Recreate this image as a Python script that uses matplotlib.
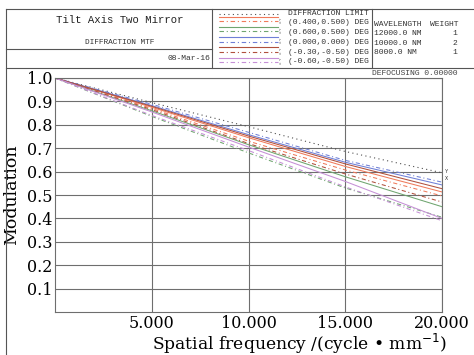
"""Polychromatic diffraction MTF plot, Zemax-style header block."""

import matplotlib
matplotlib.use("Agg")
import matplotlib.pyplot as plt
from matplotlib.lines import Line2D

W, H = 474, 355

# spatial frequency (cycles/mm) at which the curves were read
freq = [0.0, 5.0, 10.0, 15.0, 20.0]

diffraction = [1.0, 0.895, 0.792, 0.686, 0.595]

fields = ["(0.400,0.500) DEG", "(0.600,0.500) DEG", "(0.000,0.000) DEG",
          "(-0.30,-0.50) DEG", "(-0.60,-0.50) DEG"]
tangential = [
    [1.0, 0.875, 0.745, 0.622, 0.513],
    [1.0, 0.860, 0.715, 0.578, 0.450],
    [1.0, 0.882, 0.758, 0.640, 0.543],
    [1.0, 0.879, 0.752, 0.633, 0.527],
    [1.0, 0.855, 0.705, 0.558, 0.400],
]
sagittal = [
    [1.0, 0.870, 0.730, 0.607, 0.496],
    [1.0, 0.836, 0.680, 0.530, 0.405],
    [1.0, 0.888, 0.768, 0.648, 0.555],
    [1.0, 0.865, 0.720, 0.590, 0.470],
    [1.0, 0.840, 0.690, 0.535, 0.390],
]
field_colors = ["#f07a5a", "#6fa56f", "#6f7fd6", "#b0503c", "#c58fd6"]

wavelengths = ["12000.0 NM", "10000.0 NM", "8000.0 NM"]
weights = ["1", "2", "1"]

yticks = [0.1, 0.2, 0.3, 0.4, 0.5, 0.6, 0.7, 0.8, 0.9, 1.0]
xticks = [5, 10, 15, 20]

FRAME = "#555555"
GRID = "#6e6e6e"
MONO = "Liberation Mono"
SERIF = "DejaVu Serif"
DASH = (0, (4, 2.5, 1, 2.5))
DOT = (0, (1, 3))


def fx(x):
    return x / W


def fy(y):
    return 1 - y / H


def hline(fig, x0, x1, y, **kw):
    fig.add_artist(Line2D([fx(x0), fx(x1)], [fy(y), fy(y)], **kw))


def vline(fig, x, y0, y1, **kw):
    fig.add_artist(Line2D([fx(x), fx(x)], [fy(y0), fy(y1)], **kw))


fig = plt.figure(figsize=(W / 100, H / 100), dpi=100)
ax = fig.add_axes([fx(55), fy(312), fx(442) - fx(55), fy(78) - fy(312)])

ax.plot(freq, diffraction, color="#505050", lw=0.8, linestyle=DOT)
for t, s, c in zip(tangential, sagittal, field_colors):
    ax.plot(freq, t, color=c, lw=0.75)
    ax.plot(freq, s, color=c, lw=0.75, linestyle=DASH)

ax.annotate("Y", xy=(freq[-1], diffraction[-1]), xytext=(2, 1),
            textcoords="offset points", fontsize=3.8, family=MONO,
            color="#333333", va="center")
ax.annotate("X", xy=(freq[-1], diffraction[-1]), xytext=(2, -4),
            textcoords="offset points", fontsize=3.8, family=MONO,
            color="#333333", va="center")

ax.set_xlim(0, 20)
ax.set_ylim(0, 1.0)
ax.set_xticks(xticks)
ax.set_xticklabels([f"{v:.3f}" for v in xticks])
ax.set_yticks(yticks)
ax.set_yticklabels([f"{v:.1f}" for v in yticks])
ax.tick_params(axis="x", length=0, labelsize=11.5, pad=2)
ax.tick_params(axis="y", length=0, labelsize=11.5, pad=2)
for lab in ax.get_xticklabels() + ax.get_yticklabels():
    lab.set_family(SERIF)
ax.grid(True, color=GRID, lw=0.8)
for sp in ax.spines.values():
    sp.set_color(GRID)
    sp.set_linewidth(0.8)
ax.set_axisbelow(True)
ax.set_xlabel("Spatial frequency /(cycle • mm$^{-1}$)", family=SERIF,
              fontsize=12.3)
ax.xaxis.set_label_coords(0.633, -0.086)
ax.set_ylabel("Modulation", family=SERIF, fontsize=12.5)
ax.yaxis.set_label_coords(-0.09, 0.5)

# header block
kw = dict(color=FRAME, lw=0.8)
hline(fig, 6, W, 9, **kw)
hline(fig, 6, W, 68, **kw)
hline(fig, 6, 212, 49, **kw)
vline(fig, 6, 9, H, **kw)
vline(fig, 212, 9, 68, **kw)
vline(fig, 372, 9, 68, **kw)

fig.text(fx(120), fy(20), "Tilt Axis Two Mirror", family=MONO, fontsize=7.7,
         ha="center", va="center", color="#222222")
fig.text(fx(120), fy(43), "DIFFRACTION MTF", family=MONO, fontsize=5.6,
         ha="center", va="center", color="#333333")
fig.text(fx(210), fy(58), "08-Mar-16", family=MONO, fontsize=5.8,
         ha="right", va="center", color="#333333")

# legend rows
fig.add_artist(Line2D([fx(219), fx(278)], [fy(13.7), fy(13.7)],
                      color="#505050", lw=0.8, linestyle=DOT))
fig.text(fx(288), fy(13.3), "DIFFRACTION LIMIT", family=MONO, fontsize=5.8,
         va="center", color="#333333")
for i, (name, c) in enumerate(zip(fields, field_colors)):
    ys = 16.8 + 10.2 * i
    yd = 21.2 + 10.2 * i
    fig.add_artist(Line2D([fx(219), fx(278)], [fy(ys), fy(ys)], color=c, lw=0.8))
    fig.add_artist(Line2D([fx(219), fx(278)], [fy(yd), fy(yd)], color=c, lw=0.8,
                          linestyle=DASH))
    fig.text(fx(281), fy(ys + 1.5), "Y", family=MONO, fontsize=3, rotation=90,
             ha="center", va="center", color="#555555")
    fig.text(fx(281), fy(yd + 0.5), "X", family=MONO, fontsize=3, rotation=90,
             ha="center", va="center", color="#555555")
    fig.text(fx(288), fy(23 + 9.7 * i), name, family=MONO, fontsize=5.8,
             va="center", color="#333333")

fig.text(fx(374), fy(24), "WAVELENGTH", family=MONO, fontsize=5.8,
         va="center", color="#333333")
fig.text(fx(458), fy(24), "WEIGHT", family=MONO, fontsize=5.8,
         ha="right", va="center", color="#333333")
for i, (wl, wt) in enumerate(zip(wavelengths, weights)):
    y = 33.5 + 9.6 * i
    fig.text(fx(374), fy(y), wl, family=MONO, fontsize=5.8, va="center",
             color="#333333")
    fig.text(fx(457), fy(y), wt, family=MONO, fontsize=5.8, ha="right",
             va="center", color="#333333")

fig.text(fx(457), fy(73.5), "DEFOCUSING 0.00000", family=MONO, fontsize=5.8,
         ha="right", va="center", color="#444444")

fig.savefig("out.png", dpi=100)
